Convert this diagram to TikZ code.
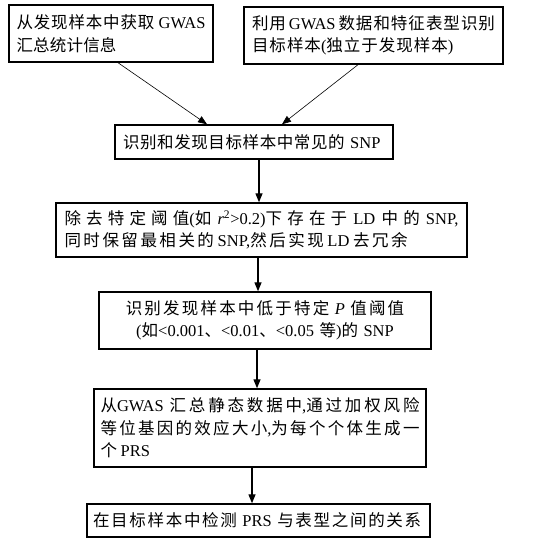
\documentclass[tikz,border=0pt]{standalone}
\usepackage{fontspec}
\setmainfont{Liberation Serif}
\newfontfamily\cjk{Noto Sans CJK SC}
\newfontfamily\latf{Liberation Serif}
\newcommand\lt[1]{{\latf #1}}
\newcommand\cgap[1]{\XeTeXlinebreakskip=#1 plus 2pt\relax}
\XeTeXlinebreaklocale "zh"
\XeTeXlinebreakskip=0pt plus 2pt
\usetikzlibrary{arrows.meta}
\tikzset{
  box/.style={draw=black, line width=1.4pt, inner ysep=0pt,
    font=\cjk\fontsize{16.5}{22.5}\selectfont, align=justify, anchor=center},
  flow/.style={line width=1.3pt, -{Triangle[length=9pt,width=7pt]}},
  thin flow/.style={line width=0.6pt, -{Triangle[length=9pt,width=7pt]}},
}
\begin{document}
\begin{tikzpicture}[x=1pt,y=-1pt]
\useasboundingbox (0,0) rectangle (548,545);
\node[box, inner xsep=7.5pt, minimum height=57pt, text width=189pt] (b1) at (111,33.5)
  {\cgap{0.2pt}从发现样本中获取~\lt{GWAS}\linebreak 汇总统计信息};
\node[box, inner xsep=8pt, minimum height=57pt, text width=243pt] (b2) at (373.5,35.5)
  {\cgap{1pt}利用~\lt{GWAS}~数据和特征表型识别\linebreak 目标样本\lt{(}独立于发现样本\lt{)}};
\node[box, align=left, inner xsep=8pt, minimum height=34pt, text width=262pt] (b3) at (254,142)
  {\cgap{0.6pt}识别和发现目标样本中常见的~\lt{SNP}};
\node[box, inner xsep=8.5pt, minimum height=54pt, text width=394pt] (b4) at (261.5,230)
  {\cgap{2.5pt}除去特定阈值\lt{(}如~{\latf\itshape r}\lt{\textsuperscript{2}>0.2)}下存在于~\lt{LD}~中的~\lt{SNP,}\linebreak 同时保留最相关的~\lt{SNP,}然后实现~\lt{LD}~去冗余};
\node[box, align=center, inner xsep=7pt, minimum height=57pt, text width=318pt] (b5) at (265,320.5)
  {\cgap{1pt}识别发现样本中低于特定~{\latf\itshape P}~值阈值\\\lt{(}如\lt{<0.001}、\lt{<0.01}、\lt{<0.05}~等\lt{)}的~\lt{SNP}};
\node[box, inner xsep=6.5pt, minimum height=78pt, text width=319pt] (b6) at (260,428)
  {\cgap{0.5pt}从\lt{GWAS}~汇总静态数据中\lt{,}通过加权风险\linebreak 等位基因的效应大小\lt{,}为每个个体生成一\linebreak 个~\lt{PRS}};
\node[box, align=left, inner xsep=6pt, minimum height=33pt, text width=331pt] (b7) at (258.5,520.5)
  {\cgap{1.7pt}在目标样本中检测~\lt{PRS}~与表型之间的关系};
\draw[thin flow] ([xshift=7pt]b1.south) -- ([xshift=-47pt]b3.north);
\draw[thin flow] ([xshift=-15.5pt]b2.south) -- ([xshift=28pt]b3.north);
\draw[flow] ([xshift=5pt]b3.south) -- ([xshift=5pt]b3.south |- b4.north);
\draw[flow] ([xshift=-3.5pt]b4.south) -- ([xshift=-3.5pt]b4.south |- b5.north);
\draw[flow] ([xshift=-8pt]b5.south) -- ([xshift=-8pt]b5.south |- b6.north);
\draw[flow] ([xshift=-8pt]b6.south) -- ([xshift=-8pt]b6.south |- b7.north);
\end{tikzpicture}
\end{document}
